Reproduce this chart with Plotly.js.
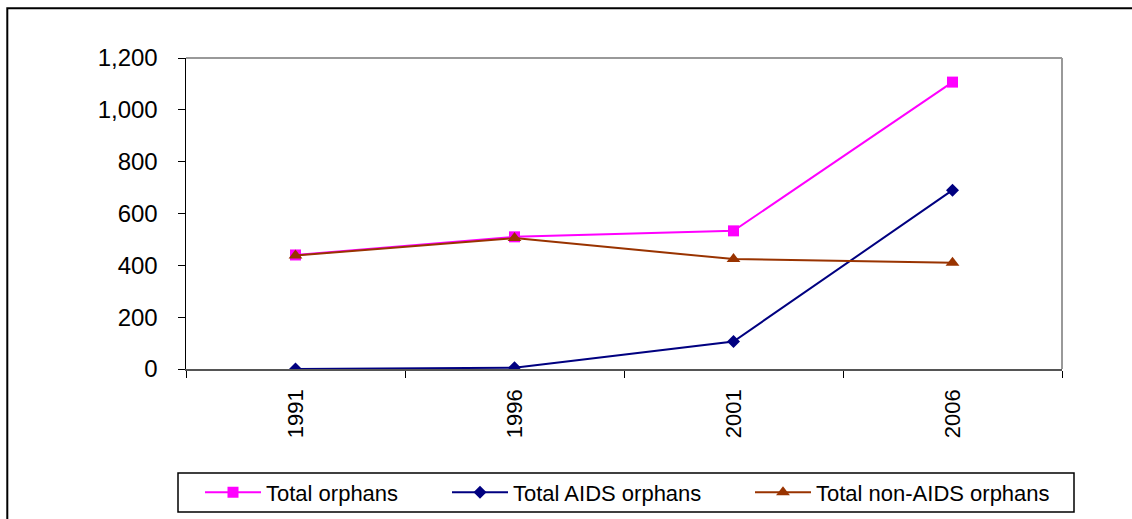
<!DOCTYPE html>
<html>
<head>
<meta charset="utf-8">
<script src="https://cdn.plot.ly/plotly-3.0.1.min.js"></script>
<style>html,body{margin:0;padding:0;background:#fff;}#chart{width:1132px;height:519px;}</style>
</head>
<body>
<div id="chart"></div>
<script>
var years = ["1991", "1996", "2001", "2006"];
var totalOrphans = [440, 510, 533, 1107];
var aidsOrphans = [0, 5, 106, 690];
var nonAidsOrphans = [438, 505, 424, 410];
var yTicks = [0, 200, 400, 600, 800, 1000, 1200];
var yTickLabels = ["0", "200", "400", "600", "800", "1,000", "1,200"];

var font = "Liberation Sans, Arial, sans-serif";
var traces = [
  {x: years, y: totalOrphans, name: "Total orphans", type: "scatter", mode: "lines+markers", legend: "legend",
   line: {color: "#FF00FF", width: 2}, marker: {symbol: "square", size: 11, color: "#FF00FF"}},
  {x: years, y: aidsOrphans, name: "Total AIDS orphans", type: "scatter", mode: "lines+markers", legend: "legend2",
   line: {color: "#000080", width: 2}, marker: {symbol: "diamond", size: 10, color: "#000080"}},
  {x: years, y: nonAidsOrphans, name: "Total non-AIDS orphans", type: "scatter", mode: "lines+markers", legend: "legend3",
   line: {color: "#993300", width: 2}, marker: {symbol: "triangle-up", size: 12, color: "#993300"}}
];
function leg(px) {
  return {orientation: "h", xref: "container", yref: "container", x: px / 1132, xanchor: "left",
    y: 1 - 492.5 / 519, yanchor: "middle", borderwidth: 0, bgcolor: "rgba(0,0,0,0)",
    font: {size: 22, color: "#000"}, itemwidth: 56};
}
var layout = {
  width: 1132, height: 519,
  margin: {l: 186, r: 70, t: 58, b: 150},
  paper_bgcolor: "#fff", plot_bgcolor: "#fff",
  font: {family: font, size: 21, color: "#000"},
  showlegend: true,
  xaxis: {type: "category", range: [-0.5, 3.5], tickson: "boundaries", ticks: "outside", ticklen: 7,
    tickcolor: "#000", tickwidth: 1, showline: true, linecolor: "#555", linewidth: 1.5,
    showgrid: false, zeroline: false, tickangle: -90, tickfont: {size: 22}, ticklabelstandoff: 10, fixedrange: true},
  yaxis: {range: [0, 1200], tickvals: yTicks, ticktext: yTickLabels, ticks: "outside", ticklen: 7,
    tickcolor: "#000", tickwidth: 1, showline: true, linecolor: "#000", linewidth: 1.5,
    showgrid: false, zeroline: false, tickfont: {size: 24}, ticklabelstandoff: 15, fixedrange: true},
  legend: leg(200),
  legend2: leg(447),
  legend3: leg(750),
  shapes: [
    {type: "line", xref: "paper", yref: "paper", x0: 0, x1: 1, y0: 1, y1: 1, line: {color: "#999", width: 2}},
    {type: "line", xref: "paper", yref: "paper", x0: 1, x1: 1, y0: 0, y1: 1, line: {color: "#999", width: 2}},
    {type: "rect", xref: "paper", yref: "paper", x0: -0.00913, x1: 1.0137, y0: -0.4598, y1: -0.3344, line: {color: "#000", width: 1.5}},
    {type: "rect", xref: "paper", yref: "paper", x0: -0.204, x1: 1.2, y0: -0.6, y1: 1.16, line: {color: "#000", width: 2}}
  ]
};
Plotly.newPlot("chart", traces, layout, {displayModeBar: false, staticPlot: true});
</script>
</body>
</html>
